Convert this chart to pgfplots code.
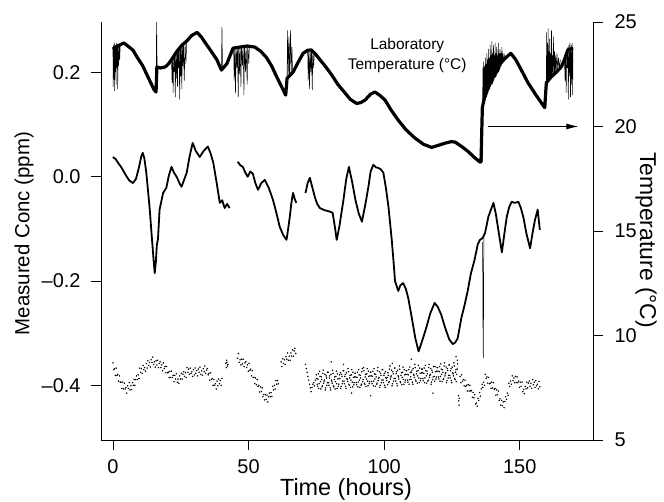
\documentclass[border=0pt]{standalone}
\usepackage{fontspec}
\setmainfont{Liberation Sans}
\usepackage{pgfplots}
\pgfplotsset{compat=1.18}
\usetikzlibrary{arrows.meta}
\begin{document}
\begin{tikzpicture}
\begin{axis}[
  at={(0,0)}, anchor=south west,
  scale only axis, width=492bp, height=418bp,
  xmin=-4.4, xmax=177, ymin=-0.505, ymax=0.297,
  axis x line*=bottom, axis y line*=left,
  xtick pos=left, ytick pos=left,
  axis line style={line width=0.9bp,-},
  tick align=outside, major tick length=10bp,
  tick style={line width=0.7bp, black},
  xtick={0,50,100,150}, ytick={-0.4,-0.2,0,0.2},
  yticklabels={–0.4,–0.2,0.0,0.2},
  xticklabel shift=6bp, yticklabel shift=7bp,
  ticklabel style={font=\fontsize{20}{24}\selectfont},
  /pgf/number format/assume math mode=true,
  xlabel={Time (hours)}, ylabel={Measured Conc (ppm)},
  xlabel style={font=\fontsize{23.5}{28}\selectfont, at={(axis description cs:0.498,-0.1316)}, anchor=base},
  ylabel style={font=\fontsize{20.5}{24}\selectfont, at={(axis description cs:-0.1565,0.494)}, anchor=center},
]
% middle concentration trace
\addplot[black, line width=1.8bp, line join=round] coordinates {
(0,0.038)(1,0.034)(2,0.026)(3,0.019)(4,0.010)(5,0.001)(6,-0.007)(7.4,-0.012)(8.5,-0.004)(9.5,0.016)(10.5,0.040)(11,0.046)(11.6,0.035)(12.3,0.008)(13.5,-0.058)(14.4,-0.120)(15,-0.160)(15.4,-0.185)(15.8,-0.165)(16.2,-0.130)(16.6,-0.120)(17.2,-0.063)(18.5,-0.031)(19.7,-0.021)(20.6,0.002)(21.6,0.019)(22.5,0.008)(23.5,0.000)(24.5,-0.012)(25.3,-0.019)(26.3,-0.005)(27.2,0.008)(28.3,0.040)(29.4,0.065)(30.5,0.050)(32,0.038)(33.5,0.050)(35,0.058)(36,0.045)(37,0.027)(38.2,-0.010)(39.4,-0.050)(40.3,-0.045)(41.2,-0.060)(42.1,-0.052)(43,-0.060)};
\addplot[black, line width=1.8bp, line join=round] coordinates {
(46,0.029)(47,0.022)(47.9,0.019)(48.8,0.008)(49.7,0.000)(50.6,0.010)(51.6,0.006)(52.5,-0.012)(53.5,-0.025)(54.7,-0.012)(56,-0.006)(57.5,-0.022)(59,-0.044)(60.2,-0.068)(61.5,-0.096)(62.8,-0.112)(64,-0.121)(64.6,-0.100)(65.2,-0.077)(65.8,-0.050)(66.4,-0.031)(67,-0.042)(67.6,-0.050)};
\addplot[black, line width=1.8bp, line join=round] coordinates {
(71,-0.031)(71.8,-0.012)(72.6,-0.002)(73.5,-0.020)(74.4,-0.038)(75.3,-0.052)(76.3,-0.060)(78,-0.064)(79.5,-0.066)(81,-0.069)(81.8,-0.095)(82.5,-0.121)(83.5,-0.095)(85,-0.044)(86,-0.005)(87,0.019)(88.2,-0.010)(89.4,-0.044)(90.6,-0.070)(91.8,-0.086)(93,-0.055)(94.2,-0.019)(95,0.010)(96,0.023)(97,0.018)(97.9,0.017)(98.8,0.014)(99.7,0.008)(100.6,-0.020)(101.6,-0.058)(102.8,-0.121)(103.5,-0.165)(104,-0.200)(105.2,-0.219)(106,-0.208)(107,-0.204)(108,-0.215)(108.9,-0.233)(110,-0.265)(111.5,-0.310)(112.7,-0.335)(114,-0.315)(115.5,-0.290)(117,-0.262)(118.6,-0.242)(119.8,-0.250)(121,-0.264)(122.5,-0.290)(124,-0.312)(125.3,-0.321)(126.2,-0.318)(127.1,-0.310)(128.5,-0.270)(129.7,-0.245)(130.8,-0.219)(132,-0.185)(133.3,-0.160)(134.5,-0.130)(135.3,-0.121)(136.2,-0.118)(137.2,-0.108)(138.4,-0.077)(140.3,-0.050)(141.2,-0.072)(142.1,-0.102)(143.4,-0.145)(144.3,-0.110)(145.2,-0.077)(146.1,-0.058)(147,-0.048)(148.2,-0.050)(149.5,-0.048)(150.4,-0.060)(151.3,-0.077)(152.5,-0.110)(153.8,-0.137)(154.8,-0.105)(155.6,-0.083)(156.6,-0.063)(157.4,-0.102)};
\addplot[black, line width=0.5bp] coordinates {(136.3,-0.125)(136.45,-0.300)(136.55,-0.348)(136.65,-0.250)(136.75,-0.110)};
% bottom concentration trace (dots)
\addplot[only marks, mark=*, mark size=0.5bp, black] coordinates {
(0.0,-0.357)(0.3,-0.370)(0.6,-0.368)(0.9,-0.381)(1.2,-0.367)(1.5,-0.381)(1.8,-0.379)(2.1,-0.392)(2.4,-0.382)(2.7,-0.394)(3.0,-0.394)(3.3,-0.406)(3.6,-0.394)(3.9,-0.407)(4.2,-0.396)(4.5,-0.407)(4.8,-0.404)(5.1,-0.415)(5.4,-0.401)(5.7,-0.406)(6.0,-0.395)(6.3,-0.409)(6.6,-0.401)(6.9,-0.408)(7.2,-0.395)(7.5,-0.400)(7.8,-0.389)(8.1,-0.400)(8.4,-0.389)(8.7,-0.382)(9.0,-0.389)(9.3,-0.380)(9.6,-0.387)(9.9,-0.367)(10.2,-0.375)(10.5,-0.368)(10.8,-0.377)(11.1,-0.362)(11.4,-0.370)(11.7,-0.366)(12.0,-0.373)(12.3,-0.358)(12.6,-0.367)(12.9,-0.353)(13.2,-0.362)(13.5,-0.356)(13.8,-0.365)(14.1,-0.351)(14.4,-0.356)(14.7,-0.346)(15.0,-0.360)(15.3,-0.355)(15.6,-0.365)(15.9,-0.353)(16.2,-0.361)(16.5,-0.352)(16.8,-0.366)(17.1,-0.358)(17.4,-0.355)(17.7,-0.366)(18.0,-0.361)(18.3,-0.372)(18.6,-0.357)(18.9,-0.368)(19.2,-0.364)(19.5,-0.376)(19.8,-0.364)(20.1,-0.376)(20.4,-0.375)(20.7,-0.385)(21.0,-0.373)(21.3,-0.385)(21.6,-0.373)(21.9,-0.385)(22.2,-0.381)(22.5,-0.393)(22.8,-0.381)(23.1,-0.388)(23.4,-0.378)(23.7,-0.394)(24.0,-0.388)(24.3,-0.396)(24.6,-0.382)(24.9,-0.388)(25.2,-0.377)(25.5,-0.388)(25.8,-0.379)(26.1,-0.374)(26.4,-0.383)(26.7,-0.376)(27.0,-0.385)(27.3,-0.366)(27.6,-0.375)(27.9,-0.369)(28.2,-0.379)(28.5,-0.367)(28.8,-0.377)(29.1,-0.374)(29.4,-0.383)(29.7,-0.370)(30.0,-0.380)(30.3,-0.367)(30.6,-0.377)(30.9,-0.372)(31.2,-0.382)(31.5,-0.369)(31.8,-0.375)(32.1,-0.365)(32.4,-0.379)(32.7,-0.372)(33.0,-0.381)(33.3,-0.368)(33.6,-0.374)(33.9,-0.363)(34.2,-0.377)(34.5,-0.371)(34.8,-0.368)(35.1,-0.380)(35.4,-0.377)(35.7,-0.390)(36.0,-0.376)(36.3,-0.389)(36.6,-0.387)(36.9,-0.400)(37.2,-0.389)(37.5,-0.400)(37.8,-0.397)(38.1,-0.407)(38.4,-0.392)(38.7,-0.401)(39.0,-0.388)(39.3,-0.397)(39.6,-0.391)(39.9,-0.400)(40.2,-0.387)
(41.6,-0.358)(41.8,-0.366)(41.9,-0.352)(42.0,-0.356)(42.2,-0.363)(42.4,-0.360)
(46.0,-0.348)(46.3,-0.339)(46.6,-0.356)(46.9,-0.351)(47.2,-0.361)(47.5,-0.350)(47.8,-0.359)(48.1,-0.350)(48.4,-0.364)(48.7,-0.357)(49.0,-0.355)(49.3,-0.366)(49.6,-0.361)(49.9,-0.373)(50.2,-0.358)(50.5,-0.371)(50.8,-0.369)(51.1,-0.382)(51.4,-0.372)(51.7,-0.385)(52.0,-0.385)(52.3,-0.397)(52.6,-0.386)(52.9,-0.399)(53.2,-0.389)(53.5,-0.402)(53.8,-0.400)(54.1,-0.413)(54.4,-0.403)(54.7,-0.412)(55.0,-0.405)(55.3,-0.422)(55.6,-0.418)(55.9,-0.428)(56.2,-0.418)(56.5,-0.427)(56.8,-0.419)(57.1,-0.432)(57.4,-0.422)(57.7,-0.415)(58.0,-0.422)(58.3,-0.414)(58.6,-0.421)(58.9,-0.402)(59.2,-0.409)(59.5,-0.400)(59.8,-0.407)(60.1,-0.391)(60.4,-0.398)(60.7,-0.391)(61.0,-0.397)
(62.0,-0.355)(62.3,-0.364)(62.6,-0.349)(62.9,-0.358)(63.2,-0.351)(63.5,-0.360)(63.8,-0.345)(64.1,-0.350)(64.4,-0.338)(64.7,-0.352)(65.0,-0.344)(65.3,-0.352)(65.6,-0.338)(65.9,-0.344)(66.2,-0.332)(66.5,-0.344)(66.8,-0.334)(67.1,-0.329)(67.4,-0.339)
(71.0,-0.360)(71.3,-0.368)(71.6,-0.375)(71.9,-0.383)(72.2,-0.390)(72.5,-0.398)(72.8,-0.405)(73.1,-0.412)(73.4,-0.404)(73.7,-0.398)(74.0,-0.395)(74.3,-0.401)(74.6,-0.390)
(75.0,-0.380)(75.3,-0.398)(75.6,-0.388)(75.9,-0.406)(76.2,-0.373)(76.5,-0.393)(76.8,-0.384)(77.1,-0.403)(77.4,-0.377)(77.7,-0.396)(78.0,-0.390)(78.3,-0.409)(78.6,-0.382)(78.9,-0.400)(79.2,-0.375)(79.5,-0.395)(79.8,-0.386)(80.1,-0.405)(80.4,-0.379)(80.7,-0.392)(81.0,-0.371)(81.3,-0.401)(81.6,-0.389)(81.9,-0.407)(82.2,-0.383)(82.5,-0.397)(82.8,-0.378)(83.1,-0.402)(83.4,-0.387)
(83.7,-0.387)(84.0,-0.406)(84.3,-0.379)(84.6,-0.397)(84.9,-0.372)(85.2,-0.392)(85.5,-0.383)(85.8,-0.402)(86.1,-0.376)(86.4,-0.389)(86.7,-0.368)(87.0,-0.398)(87.3,-0.386)(87.6,-0.404)(87.9,-0.380)(88.2,-0.394)(88.5,-0.375)(88.8,-0.399)(89.1,-0.384)(89.4,-0.377)(89.7,-0.395)(90.0,-0.385)(90.3,-0.403)(90.6,-0.370)(90.9,-0.390)(91.2,-0.381)(91.5,-0.400)(91.8,-0.374)(92.1,-0.393)
(92.4,-0.366)(92.7,-0.396)(93.0,-0.384)(93.3,-0.402)(93.6,-0.378)(93.9,-0.392)(94.2,-0.373)(94.5,-0.397)(94.8,-0.382)(95.1,-0.375)(95.4,-0.393)(95.7,-0.383)(96.0,-0.401)(96.3,-0.368)(96.6,-0.388)(96.9,-0.379)(97.2,-0.398)(97.5,-0.372)(97.8,-0.391)(98.1,-0.385)(98.4,-0.404)(98.7,-0.377)(99.0,-0.395)(99.3,-0.370)(99.6,-0.390)(99.9,-0.381)(100.2,-0.400)(100.5,-0.374)(100.8,-0.387)
(101.1,-0.385)(101.4,-0.376)(101.7,-0.395)(102.0,-0.369)(102.3,-0.388)(102.6,-0.382)(102.9,-0.401)(103.2,-0.374)(103.5,-0.392)(103.8,-0.367)(104.1,-0.387)(104.4,-0.378)(104.7,-0.397)(105.0,-0.371)(105.3,-0.384)(105.6,-0.363)(105.9,-0.393)(106.2,-0.381)(106.5,-0.399)(106.8,-0.375)(107.1,-0.389)(107.4,-0.370)(107.7,-0.394)(108.0,-0.379)(108.3,-0.372)(108.6,-0.390)(108.9,-0.380)(109.2,-0.398)(109.5,-0.365)
(109.8,-0.384)(110.1,-0.375)(110.4,-0.394)(110.7,-0.368)(111.0,-0.381)(111.3,-0.360)(111.6,-0.390)(111.9,-0.378)(112.2,-0.396)(112.5,-0.372)(112.8,-0.386)(113.1,-0.367)(113.4,-0.391)(113.7,-0.376)(114.0,-0.369)(114.3,-0.387)(114.6,-0.377)(114.9,-0.395)(115.2,-0.362)(115.5,-0.382)(115.8,-0.373)(116.1,-0.392)(116.4,-0.366)(116.7,-0.385)(117.0,-0.379)(117.3,-0.398)(117.6,-0.371)(117.9,-0.389)(118.2,-0.364)
(118.5,-0.383)(118.8,-0.364)(119.1,-0.388)(119.4,-0.373)(119.7,-0.366)(120.0,-0.384)(120.3,-0.374)(120.6,-0.392)(120.9,-0.359)(121.2,-0.379)(121.5,-0.370)(121.8,-0.389)(122.1,-0.363)(122.4,-0.382)(122.7,-0.376)(123.0,-0.395)(123.3,-0.368)(123.6,-0.386)(123.9,-0.361)(124.2,-0.381)(124.5,-0.372)(124.8,-0.391)(125.1,-0.365)(125.4,-0.378)(125.7,-0.357)(126.0,-0.387)(126.3,-0.375)(126.6,-0.393)(126.9,-0.369)
(75.15,-0.387)(75.45,-0.402)(75.75,-0.378)(76.05,-0.397)(76.35,-0.383)(76.65,-0.407)(76.95,-0.389)(77.25,-0.401)(77.55,-0.371)(77.85,-0.392)(78.15,-0.379)(78.45,-0.405)(78.75,-0.386)(79.05,-0.395)(79.35,-0.375)(79.65,-0.400)(79.95,-0.382)(80.25,-0.409)(80.55,-0.390)(80.85,-0.396)(81.15,-0.377)(81.45,-0.403)(81.75,-0.384)(82.05,-0.393)(82.35,-0.373)(82.65,-0.406)(82.95,-0.388)(83.25,-0.398)(83.55,-0.380)
(83.85,-0.376)(84.15,-0.402)(84.45,-0.383)(84.75,-0.392)(85.05,-0.372)(85.35,-0.397)(85.65,-0.379)(85.95,-0.406)(86.25,-0.387)(86.55,-0.393)(86.85,-0.374)(87.15,-0.400)(87.45,-0.381)(87.75,-0.390)(88.05,-0.370)(88.35,-0.403)(88.65,-0.385)(88.95,-0.395)(89.25,-0.377)(89.55,-0.384)(89.85,-0.399)(90.15,-0.375)(90.45,-0.394)(90.75,-0.380)(91.05,-0.404)(91.35,-0.386)(91.65,-0.398)(91.95,-0.368)(92.25,-0.389)
(92.55,-0.372)(92.85,-0.398)(93.15,-0.379)(93.45,-0.388)(93.75,-0.368)(94.05,-0.401)(94.35,-0.383)(94.65,-0.393)(94.95,-0.375)(95.25,-0.382)(95.55,-0.397)(95.85,-0.373)(96.15,-0.392)(96.45,-0.378)(96.75,-0.402)(97.05,-0.384)(97.35,-0.396)(97.65,-0.366)(97.95,-0.387)(98.25,-0.374)(98.55,-0.400)(98.85,-0.381)(99.15,-0.390)(99.45,-0.370)(99.75,-0.395)(100.05,-0.377)(100.35,-0.404)(100.65,-0.385)(100.95,-0.391)
(101.25,-0.399)(101.55,-0.381)(101.85,-0.393)(102.15,-0.363)(102.45,-0.384)(102.75,-0.371)(103.05,-0.397)(103.35,-0.378)(103.65,-0.387)(103.95,-0.367)(104.25,-0.392)(104.55,-0.374)(104.85,-0.401)(105.15,-0.382)(105.45,-0.388)(105.75,-0.369)(106.05,-0.395)(106.35,-0.376)(106.65,-0.385)(106.95,-0.365)(107.25,-0.398)(107.55,-0.380)(107.85,-0.390)(108.15,-0.372)(108.45,-0.379)(108.75,-0.394)(109.05,-0.370)(109.35,-0.389)(109.65,-0.375)
(109.95,-0.389)(110.25,-0.371)(110.55,-0.398)(110.85,-0.379)(111.15,-0.385)(111.45,-0.366)(111.75,-0.392)(112.05,-0.373)(112.35,-0.382)(112.65,-0.362)(112.95,-0.395)(113.25,-0.377)(113.55,-0.387)(113.85,-0.369)(114.15,-0.376)(114.45,-0.391)(114.75,-0.367)(115.05,-0.386)(115.35,-0.372)(115.65,-0.396)(115.95,-0.378)(116.25,-0.390)(116.55,-0.360)(116.85,-0.381)(117.15,-0.368)(117.45,-0.394)(117.75,-0.375)(118.05,-0.384)(118.35,-0.364)
(118.65,-0.392)(118.95,-0.374)(119.25,-0.384)(119.55,-0.366)(119.85,-0.373)(120.15,-0.388)(120.45,-0.364)(120.75,-0.383)(121.05,-0.369)(121.35,-0.393)(121.65,-0.375)(121.95,-0.387)(122.25,-0.357)(122.55,-0.378)(122.85,-0.365)(123.15,-0.391)(123.45,-0.372)(123.75,-0.381)(124.05,-0.361)(124.35,-0.386)(124.65,-0.368)(124.95,-0.395)(125.25,-0.376)(125.55,-0.382)(125.85,-0.363)(126.15,-0.389)(126.45,-0.370)(126.75,-0.379)(127.05,-0.359)
(80.5,-0.355)(95.0,-0.420)(110.0,-0.350)(126.5,-0.345)(127.0,-0.352)(88.0,-0.415)(118.0,-0.415)(103.0,-0.358)(85.0,-0.360)
(127.4,-0.420)(127.5,-0.430)(127.6,-0.438)(127.7,-0.425)
(128.0,-0.383)(128.3,-0.395)(128.6,-0.380)(128.9,-0.392)(129.2,-0.389)(129.5,-0.401)(129.8,-0.390)(130.1,-0.402)(130.4,-0.400)(130.7,-0.411)(131.0,-0.399)(131.3,-0.411)(131.6,-0.400)(131.9,-0.411)(132.2,-0.410)(132.5,-0.423)(132.8,-0.414)(133.1,-0.424)(133.4,-0.418)(133.7,-0.436)(134.0,-0.434)(134.3,-0.440)(134.6,-0.425)(134.9,-0.429)(135.2,-0.414)(135.5,-0.421)(135.8,-0.407)(136.1,-0.398)(136.4,-0.404)(136.7,-0.394)(137.0,-0.400)(137.3,-0.379)(137.6,-0.387)(137.9,-0.384)(138.2,-0.396)(138.5,-0.385)(138.8,-0.397)(139.1,-0.396)(139.4,-0.406)(139.7,-0.394)(140.0,-0.405)(140.3,-0.395)(140.6,-0.408)(140.9,-0.406)(141.2,-0.419)(141.5,-0.409)(141.8,-0.418)(142.1,-0.411)(142.4,-0.429)(142.7,-0.426)(143.0,-0.438)(143.3,-0.429)(143.6,-0.439)(143.9,-0.432)(144.2,-0.443)(144.5,-0.431)(144.8,-0.422)(145.1,-0.427)(145.4,-0.415)(145.7,-0.419)(146.0,-0.396)(146.3,-0.402)(146.6,-0.392)(146.9,-0.398)(147.2,-0.382)(147.5,-0.391)(147.8,-0.386)(148.1,-0.395)(148.4,-0.383)(148.7,-0.395)(149.0,-0.384)(149.3,-0.395)(149.6,-0.392)(149.9,-0.404)(150.2,-0.394)(150.5,-0.402)(150.8,-0.394)(151.1,-0.412)(151.4,-0.408)(151.7,-0.416)(152.0,-0.402)(152.3,-0.407)(152.6,-0.394)(152.9,-0.405)(153.2,-0.396)(153.5,-0.392)(153.8,-0.402)(154.1,-0.396)(154.4,-0.406)(154.7,-0.389)(155.0,-0.399)(155.3,-0.394)(155.6,-0.404)(155.9,-0.391)(156.2,-0.401)(156.5,-0.398)(156.8,-0.407)(157.1,-0.393)(157.4,-0.403)};
\end{axis}
\begin{axis}[
  at={(0,0)}, anchor=south west,
  scale only axis, width=492bp, height=418bp,
  xmin=-4.4, xmax=177, ymin=5, ymax=25,
  axis x line=none, axis y line*=right,
  ytick pos=right, yticklabel pos=right,
  axis line style={line width=0.9bp,-},
  tick align=outside, major tick length=10bp,
  tick style={line width=0.7bp, black},
  ytick={5,10,15,20,25}, yticklabel shift=8bp,
  ticklabel style={font=\fontsize{20}{24}\selectfont},
  /pgf/number format/assume math mode=true,
  ylabel={Temperature (°C)},
  ylabel style={font=\fontsize{23}{28}\selectfont, at={(axis description cs:1.108,0.478)}, anchor=center, rotate=180},
]
\addplot[black, line width=3.2bp, line join=round] coordinates {
(0,23.7)(1,23.8)(2.5,23.9)(4,24.0)(5.5,23.85)(7.4,23.65)(9,23.3)(11,22.9)(13,22.35)(15.2,21.75)(15.9,21.65)(16.2,22.85)(17.5,22.8)(19.3,22.85)(20.5,23.0)(21.6,23.2)(23.6,23.6)(25.5,23.9)(27.3,24.1)(29,24.35)(31,24.5)(32.5,24.3)(34.6,23.9)(36.5,23.55)(38.3,23.2)(40,22.7)(42,23.0)(43.2,23.4)(44.3,23.75)(46.8,23.8)(49.5,23.85)(52.3,23.8)(54.5,23.6)(56.6,23.3)(58.5,22.9)(60.3,22.4)(62,21.95)(63.7,21.5)(64.2,22.3)(66.4,22.6)(68.2,23.05)(70.1,23.5)(71.8,23.65)(73.2,23.66)(74.8,23.45)(76.3,23.2)(78.5,22.85)(80.7,22.46)(83,22.0)(85.6,21.6)(87.5,21.3)(89.9,21.1)(91.5,21.15)(93,21.27)(95,21.55)(96.6,21.65)(98.3,21.5)(100.3,21.27)(102.5,20.8)(105.2,20.3)(108,19.85)(111.3,19.45)(114.5,19.15)(117.5,19.0)(120,19.1)(122.4,19.2)(124.5,19.27)(126.1,19.26)(128.5,19.05)(131,18.8)(133,18.55)(135.3,18.3)(135.7,18.3)(136.2,20.9)(137,21.4)(138,21.9)(139.3,22.3)(140.9,22.65)(142.7,23.0)(144.5,23.25)(146.7,23.5)(148.5,23.2)(150.8,22.65)(153,22.1)(156,21.5)(159.2,20.9)(159.8,22.1)(161.6,22.37)(163.5,22.6)(165.3,22.85)(166.5,23.2)(167.7,23.66)(169.6,23.75)};
\addplot[black, line width=0.5bp] coordinates {
(0.0,23.8)(0.1,21.9)(0.2,23.9)(0.35,22.3)(0.5,24.0)(0.6,21.7)(0.75,23.8)(0.9,22.6)(1.0,23.9)(1.15,22.0)(1.3,24.0)(1.45,22.8)(1.6,23.9)(1.75,21.8)(1.9,23.9)(2.1,22.9)(2.3,23.9)(2.5,23.2)(2.7,23.9)};
\addplot[black, line width=0.5bp] coordinates {(15.9,21.7)(16.1,25.0)(16.3,22.8)};
\addplot[black, line width=0.5bp] coordinates {
(21.6,23.2)(21.8,22.1)(22.0,23.3)(22.2,21.6)(22.4,23.4)(22.6,22.6)(22.8,23.5)(23.0,21.4)(23.2,23.55)(23.4,22.3)(23.6,23.65)(23.8,21.9)(24.0,23.7)(24.2,22.8)(24.4,23.75)(24.6,21.3)(24.8,23.8)(25.0,22.4)(25.2,23.85)(25.4,21.8)(25.6,23.9)(25.8,22.9)(26.0,23.95)(26.3,22.2)(26.6,24.0)(26.9,23.0)(27.2,24.1)};
\addplot[black, line width=0.5bp] coordinates {(40.0,22.7)(40.2,24.75)(40.4,22.75)};
\addplot[black, line width=0.5bp] coordinates {
(44.5,23.75)(44.7,22.2)(44.9,23.8)(45.2,21.6)(45.4,23.8)(45.7,22.8)(45.9,23.8)(46.2,21.4)(46.4,23.85)(46.7,22.5)(46.9,23.85)(47.2,21.9)(47.4,23.85)(47.8,22.9)(48.0,23.85)(48.3,21.5)(48.5,23.85)(48.9,22.6)(49.1,23.85)(49.5,22.0)(49.7,23.85)(50.1,23.0)(50.3,23.85)};
\addplot[black, line width=0.5bp] coordinates {
(64.2,22.3)(64.4,24.6)(64.6,22.4)(64.9,24.3)(65.1,22.5)(65.5,24.6)(65.7,22.5)(66.0,23.8)(66.2,22.6)};
\addplot[black, line width=0.5bp] coordinates {
(71.8,23.6)(72.0,22.2)(72.2,23.65)(72.5,21.8)(72.7,23.7)(73.0,22.6)(73.2,23.7)(73.5,21.75)(73.7,23.65)(74.0,22.8)(74.3,23.6)};
\addplot[black, line width=0.5bp] coordinates {
(136.2,18.3)(136.3,21.0)(136.4,22.8)(136.55,20.9)(136.7,23.1)(136.85,21.1)(137.0,22.9)(137.15,21.2)(137.3,23.3)(137.45,21.3)(137.6,23.0)(137.75,21.4)(137.9,23.5)(138.05,21.5)(138.2,23.2)(138.35,21.6)(138.5,23.7)(138.65,21.7)(138.8,23.3)(138.95,21.8)(139.1,23.9)(139.25,21.9)(139.4,23.4)(139.55,22.0)(139.7,24.1)(139.85,22.0)(140.0,23.5)(140.15,22.1)(140.3,23.9)(140.45,22.2)(140.6,23.4)(140.75,22.3)(140.9,24.0)(141.05,22.35)(141.2,23.5)(141.35,22.4)(141.5,23.8)(141.65,22.5)(141.8,23.4)(141.95,22.55)(142.1,24.0)(142.25,22.6)(142.4,23.5)(142.55,22.7)(142.7,23.7)(142.85,22.8)(143.0,23.5)(143.2,22.9)(143.4,23.8)(143.6,23.0)(143.8,23.5)(144.0,23.1)(144.3,23.4)(144.5,23.2)};
\addplot[black, line width=0.5bp] coordinates {
(159.6,20.9)(159.8,22.1)(159.9,24.5)(160.0,22.2)(160.15,24.0)(160.3,22.1)(160.45,24.7)(160.6,22.2)(160.75,23.6)(160.9,22.2)(161.05,24.2)(161.2,22.3)(161.35,23.5)(161.5,22.3)(161.7,24.6)(161.85,22.4)(162.0,23.4)(162.2,22.4)(162.4,24.3)(162.6,22.5)(162.8,23.6)(163.0,22.5)(163.2,23.4)(163.4,22.6)(163.7,23.5)(164.0,22.7)(164.3,23.3)(164.6,22.8)(165.0,23.2)};
\addplot[black, line width=0.5bp] coordinates {
(166.5,23.1)(166.7,22.2)(166.9,23.4)(167.1,21.6)(167.3,23.6)(167.5,22.8)(167.7,23.8)(167.9,21.3)(168.1,23.9)(168.3,22.4)(168.5,24.0)(168.7,21.4)(168.9,23.9)(169.1,22.0)(169.3,24.0)(169.5,21.5)(169.6,23.8)};
\draw[black, line width=1bp, -{Latex[length=12bp,width=6bp]}] (axis cs:138.2,20) -- (axis cs:171.6,20);
\node[align=center, font=\fontsize{15.5}{20}\selectfont] at (axis cs:108.5,23.4) {Laboratory\\Temperature (°C)};
\end{axis}
\pgfresetboundingbox
\path (-101bp,-62bp) rectangle (563bp,440bp);
\end{tikzpicture}
\end{document}
